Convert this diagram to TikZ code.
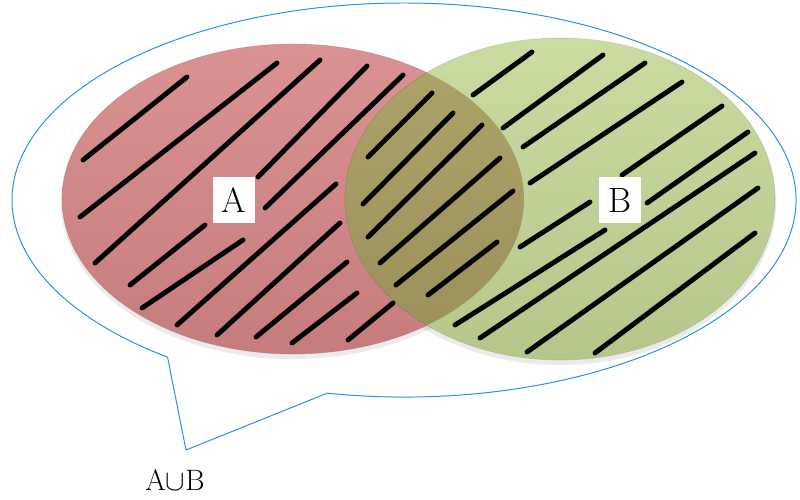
\documentclass[tikz,border=0pt]{standalone}
\usepackage{tikz}
\usetikzlibrary{positioning}
\usepackage{xcolor}

\definecolor{setAtop}{RGB}{218,146,146}
\definecolor{setAbot}{RGB}{198,124,124}
\definecolor{setBtop}{RGB}{202,220,162}
\definecolor{setBbot}{RGB}{180,198,138}
\definecolor{meettop}{RGB}{174,165,106}
\definecolor{meetbot}{RGB}{154,142,90}
\definecolor{calloutblue}{RGB}{40,140,255}

\begin{document}
\begin{tikzpicture}[
    x=0.025cm, y=-0.025cm,
    callout/.style={draw=calloutblue, line width=0.7pt, line join=round},
    hatch/.style={line width=3.5pt, line cap=round},
    setlabel/.style={fill=white, inner sep=0pt, minimum width=30pt, minimum height=33pt, font=\fontsize{25}{25}\selectfont}
]
\useasboundingbox (0,0) rectangle (800,499);

% speech bubble
\coordinate (tailR) at (327.2,393.2);
\coordinate (tip) at (186,450);
\draw[callout] (tailR) arc[start angle=101.3, end angle=-232.9, x radius=392, y radius=197]
    -- (tip) -- cycle;

% soft shadows
\fill[black, opacity=0.08] (293,203) ellipse[x radius=232, y radius=156];
\fill[black, opacity=0.08] (560,203) ellipse[x radius=216, y radius=162];

% the two sets
\shade[top color=setAtop, bottom color=setAbot, draw=setAbot!80!black, draw opacity=0.4]
    (293,199) ellipse[x radius=231, y radius=155];
\shade[top color=setBtop, bottom color=setBbot, draw=setBbot!80!black, draw opacity=0.4]
    (560,199) ellipse[x radius=215, y radius=161];
\begin{scope}
    \clip (293,199) ellipse[x radius=231, y radius=155];
    \shade[top color=meettop, bottom color=meetbot, draw=meetbot!70!black, draw opacity=0.4]
        (560,199) ellipse[x radius=215, y radius=161];
\end{scope}

% hatching
\foreach \xa/\ya/\xb/\yb in {83/160/187/77, 80/217/277/63, 95/263/320/60, 258/177/367/66,
    265/208/403/75, 130/285/205/225, 142/308/243/240, 177/325/336/184, 217/335/340/223,
    256/337/347/262, 292/343/357/293, 348/340/393/303,
    368/157/432/93, 363/204/453/113, 368/237/482/125, 380/263/500/158, 396/285/513/191,
    428/295/497/242,
    473/95/532/52, 503/128/603/55, 523/147/645/63, 530/183/682/82, 622/175/722/106,
    647/203/748/132, 520/247/590/202, 455/325/605/230, 480/338/755/153, 527/352/758/188,
    595/353/755/233}
    \draw[hatch] (\xa,\ya) -- (\xb,\yb);

\node[setlabel] (labA) at (234,200) {A};
\node[setlabel] (labB) at (620,200) {B};
\node[font=\fontsize{21}{21}\selectfont, inner sep=0pt] (union) at (175,480) {A$\cup$B};
\end{tikzpicture}
\end{document}
